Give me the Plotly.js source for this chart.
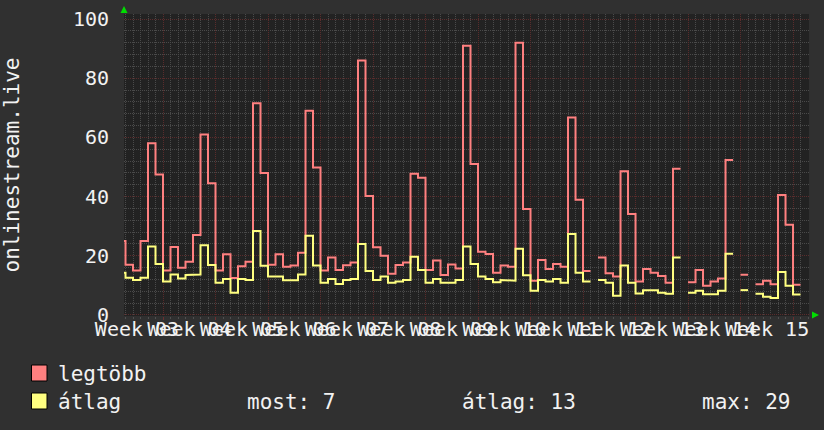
<!DOCTYPE html>
<html><head><meta charset="utf-8">
<script src="https://cdn.plot.ly/plotly-3.0.1.min.js"></script>
<style>html,body{margin:0;padding:0;background:#303030;} #chart{width:824px;height:430px;}</style>
</head><body><div id="chart"></div>
<script>
// ---- data (one value per day) ----
const seriesNames = ['legtöbb', 'átlag'];
const maxValues = [25, 17, 15, 25, 58, 47.5, 15, 23, 16, 18, 27, 61, 44.5, 15, 20.5, 12.5, 16.5, 18, 71.5, 48,
  17, 20.5, 16.3, 16.7, 21, 69, 49.8, 15, 19.4, 15.2, 16.8, 17.7, 86, 40.2, 22.9, 20, 13.9, 16.9, 17.7, 47.7,
  46.4, 15.2, 18.4, 13.5, 17.1, 15.7, 91, 51, 21.4, 20.6, 14.3, 16.7, 16.3, 92, 35.8, 11.6, 18.6, 15.5, 17.2, 16.3,
  66.7, 38.9, 14.9, null, 19.4, 14.1, 13, 48.6, 34.1, 11.3, 15.5, 14.3, 13.2, 10.9, 49.4, null, 11.1, 15.2, 9.9, 11.3,
  12.3, 52.4, null, 13.6, null, 10.4, 11.6, 10.4, 40.5, 30.5, 10.2];
const avgValues = [14.3, 12.6, 11.8, 12.6, 23.1, 17.2, 11.3, 13.7, 12.3, 13.5, 13.7, 23.6, 16.9, 10.9, 12.2, 7.5, 12.2, 11.8, 28.4, 16.6,
  13, 13, 11.7, 11.7, 13.7, 26.8, 16.7, 10.9, 12.2, 10.5, 11.8, 12.2, 24, 14.9, 11.8, 13, 10.9, 11.3, 11.8, 19.7,
  15.2, 10.9, 12.2, 10.9, 10.9, 11.8, 23.1, 17.2, 13, 12.2, 11.1, 11.8, 11.6, 22.4, 13.4, 8.2, 11.8, 11.3, 12.2, 10.9,
  27.4, 14.3, 11.3, null, 11.8, 10.9, 6.5, 16.7, 10.9, 7.3, 8.4, 8.4, 7.5, 7.2, 19.4, null, 7.5, 8.2, 7, 7,
  8.2, 20.7, null, 8.4, null, 7.2, 6.2, 5.7, 14.5, 9.9, 6.9];
const weekLabels = ['Week 03', 'Week 04', 'Week 05', 'Week 06', 'Week 07', 'Week 08', 'Week 09',
  'Week 10', 'Week 11', 'Week 12', 'Week 13', 'Week 14', 'Week 15'];
const yTickValues = [0, 20, 40, 60, 80, 100];
const yTitle = 'onlinestream.live';
const statLabels = ['most', 'átlag', 'max'];
const statValues = [7, 13, 29];

// ---- styling / layout ----
const FONT = 'DejaVu Sans Mono';
const RED = '#ff8080', YEL = '#ffff80';
const PL = 124, PR = 809, PT = 14, PB = 316;
const fx = px => (px - PL) / (PR - PL);
const fy = py => (PB - py) / (PB - PT);

function stepify(vals) {
  const xs = [], ys = [];
  vals.forEach((v, i) => {
    if (v === null) { xs.push(i); ys.push(null); return; }
    xs.push(i, i + 1); ys.push(v, v);
  });
  return { xs, ys };
}
const sMax = stepify(maxValues), sAvg = stepify(avgValues);

const traces = [
  { x: sMax.xs, y: sMax.ys, mode: 'lines', name: seriesNames[0], line: { color: RED, width: 2 }, connectgaps: false, hoverinfo: 'skip' },
  { x: sAvg.xs, y: sAvg.ys, mode: 'lines', name: seriesNames[1], line: { color: YEL, width: 2 }, connectgaps: false, hoverinfo: 'skip' }
];

const weekTickVals = weekLabels.map((_, k) => 6 + 7 * k);

const tri = pts => 'M ' + pts.map(p => fx(p[0]) + ' ' + fy(p[1])).join(' L ') + ' Z';

const shapes = [
  { type: 'path', xref: 'paper', yref: 'paper', path: tri([[120.5, 13], [127.5, 13], [124, 6]]), fillcolor: '#00dd00', line: { width: 0 } },
  { type: 'path', xref: 'paper', yref: 'paper', path: tri([[812, 311.5], [812, 318.5], [819, 315]]), fillcolor: '#00dd00', line: { width: 0 } },
  { type: 'rect', xref: 'paper', yref: 'paper', x0: fx(31.5), x1: fx(47), y0: fy(381), y1: fy(365), fillcolor: RED, line: { color: '#000', width: 1 } },
  { type: 'rect', xref: 'paper', yref: 'paper', x0: fx(31.5), x1: fx(47), y0: fy(409), y1: fy(393), fillcolor: YEL, line: { color: '#000', width: 1 } }
];

const tf = { family: FONT, size: 21, color: '#f2f2f2' };
const ann = (text, px, py) => ({ text, xref: 'paper', yref: 'paper', x: fx(px), y: fy(py), xanchor: 'left', yanchor: 'middle', showarrow: false, font: tf });
const annotations = [
  ann(seriesNames[0], 56, 374),
  ann(seriesNames[1], 56, 402),
  ann(statLabels[0] + ': ' + statValues[0], 245, 402),
  ann(statLabels[1] + ': ' + statValues[1], 460, 402),
  ann(statLabels[2] + ': ' + statValues[2], 700, 402)
];

const layout = {
  width: 824, height: 430,
  margin: { l: PL, r: 824 - PR, t: PT, b: 430 - PB, pad: 0 },
  paper_bgcolor: '#303030', plot_bgcolor: '#222222',
  showlegend: false,
  xaxis: {
    range: [0.8, 92.13], tickmode: 'array', tickvals: weekTickVals, ticktext: weekLabels,
    tickangle: 0, ticklabelshift: -26, ticklabelstandoff: -8,
    ticks: 'outside', ticklen: 3, tickcolor: '#6a3030',
    showgrid: true, gridcolor: '#5a2c2c', griddash: '1px,1px', gridwidth: 1,
    minor: { dtick: 1, tick0: 0, showgrid: true, gridcolor: '#4a4a4a', griddash: '1px,1px', ticks: 'outside', ticklen: 2, tickcolor: '#505050' },
    zeroline: false, showline: false, fixedrange: true,
    tickfont: { family: FONT, size: 20, color: '#f2f2f2' }
  },
  yaxis: {
    range: [-0.34, 101.69], tickmode: 'array', tickvals: yTickValues,
    ticks: '', ticklabelstandoff: 14,
    showgrid: true, gridcolor: '#5a2c2c', griddash: '1px,1px', gridwidth: 1,
    minor: { dtick: 4, tick0: 0, showgrid: true, gridcolor: '#4a4a4a', griddash: '1px,1px' },
    zeroline: false, showline: false, fixedrange: true,
    tickfont: { family: FONT, size: 20, color: '#f2f2f2' },
    title: { text: yTitle, font: { family: FONT, size: 21, color: '#f2f2f2' }, standoff: 48 }
  },
  shapes, annotations
};

Plotly.newPlot('chart', traces, layout, { staticPlot: true, displayModeBar: false });
</script>
</body></html>
